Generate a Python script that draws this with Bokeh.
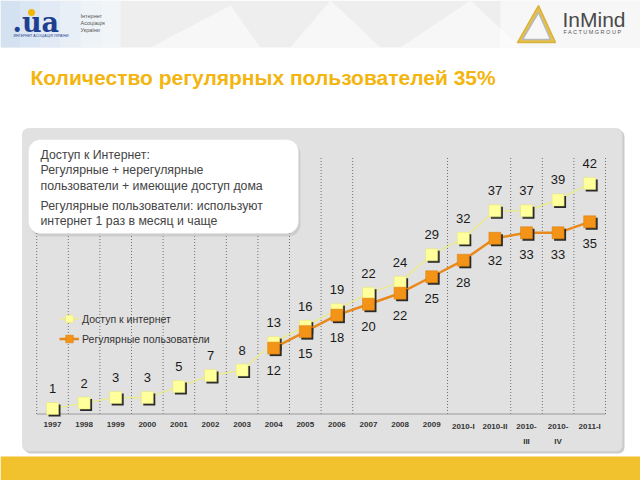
from bokeh.plotting import figure
from bokeh.models import Range1d, BoxAnnotation, Label, Legend, LegendItem
from bokeh.core.properties import value
from bokeh.embed import file_html
from bokeh.resources import INLINE

# ---------------- data ----------------
categories = ["1997", "1998", "1999", "2000", "2001", "2002", "2003", "2004", "2005",
              "2006", "2007", "2008", "2009", "2010-I", "2010-II", "2010-\nIII",
              "2010-\nIV", "2011-I"]
access = [1, 2, 3, 3, 5, 7, 8, 13, 16, 19, 22, 24, 29, 32, 37, 37, 39, 42]
regular_start = 7  # regular users series begins at 2004
regular = [12, 15, 18, 20, 22, 25, 28, 32, 33, 33, 35]
separator_after = [-1, 0, 1, 2, 3, 4, 5, 6, 7, 8, 9, 12, 14, 15, 16, 17]

title_text = "Количество регулярных пользователей 35%"
legend_access = "Доступ к интернет"
legend_regular = "Регулярные пользователи"
note_lines = ["Доступ к Интернет:", "Регулярные + нерегулярные",
              "пользователи + имеющие доступ дома"]
note_lines2 = ["Регулярные пользователи: используют", "интернет 1 раз в месяц и чаще"]

# ---------------- geometry (page pixels) ----------------
W, H = 640, 480
X0, SX = 52.0, 31.6      # page x of first category, px per category
Y0, SY = 413.5, 5.49     # page y of value 0, px per unit
Y_TOP = 47.0             # value at top of separators

def px(x):
    return (x - X0) / SX

def py(y):
    return (Y0 - y) / SY

FONT = "Liberation Sans"

p = figure(width=W, height=H, output_backend="svg", toolbar_location=None,
           x_range=Range1d((0 - X0) / SX, (W - X0) / SX),
           y_range=Range1d((Y0 - H) / SY, Y0 / SY),
           x_axis_location=None, y_axis_location=None, title=None, min_border=0)
p.grid.visible = False
p.outline_line_color = None
p.background_fill_color = "white"
p.border_fill_color = "white"

# ---------------- header ----------------
p.add_layout(BoxAnnotation(left=px(0), right=px(640), top=py(0), bottom=py(47),
                           fill_color="#eeeeee", fill_alpha=1, line_color=None, level="underlay"))
grad = ["#d3e1f1", "#dae6f3", "#e1eaf5", "#e8eff7", "#eef3f8", "#f2f5f8"]
for i, c in enumerate(grad):
    p.add_layout(BoxAnnotation(left=px(i * 20), right=px(i * 20 + 20), top=py(0), bottom=py(47),
                               fill_color=c, fill_alpha=1, line_color=None, level="underlay"))
p.add_layout(BoxAnnotation(left=px(500), right=px(640), top=py(0), bottom=py(47),
                           fill_color="#f7f7f7", fill_alpha=1, line_color=None, level="underlay"))
# soft white shapes in header
p.patches(xs=[[px(290), px(330), px(380)], [px(400), px(470), px(520)], [px(150), px(230), px(260)]],
          ys=[[py(47), py(0), py(47)], [py(47), py(0), py(47)], [py(47), py(5), py(47)]],
          fill_color="white", fill_alpha=0.55, line_color=None)

# left logo
p.add_layout(Label(x=px(12), y=py(22), text=".ua", text_font="DejaVu Serif", text_font_style="bold",
                   text_font_size="27px", text_color="#1e3f8f", text_baseline="middle"))
p.scatter([px(31)], [py(12)], marker="circle", size=7, fill_color="#f2b705", line_color=None)
p.add_layout(Label(x=px(13), y=py(35), text="ИНТЕРНЕТ АСОЦІАЦІЯ УКРАЇНИ", text_font=FONT,
                   text_font_size="3.5px", text_color="#1e3f8f", text_baseline="middle"))
for k, t in enumerate(["Інтернет", "Асоціація", "України"]):
    p.add_layout(Label(x=px(80), y=py(15 + 7 * k), text=t, text_font=FONT, text_font_size="5.5px",
                       text_color="#555555", text_baseline="middle"))

# right logo
p.patches(xs=[[px(517), px(538), px(555)], [px(522), px(538), px(550)]],
          ys=[[py(42), py(5), py(42)], [py(39), py(12), py(39)]],
          fill_color=["#e6c04a", "#f7f7f7"], line_color=["#d9b23c", "#b8b8b8"], line_width=1.5)
p.add_layout(Label(x=px(562), y=py(19), text="InMind", text_font=FONT, text_font_size="21px",
                   text_color="#4a4a4a", text_baseline="middle"))
p.add_layout(Label(x=px(563), y=py(31), text="F A C T U M   G R O U P", text_font=FONT,
                   text_font_size="5.5px", text_color="#555555", text_baseline="middle"))

# title
p.add_layout(Label(x=px(30), y=py(77), text=title_text, text_font=FONT, text_font_style="bold",
                   text_font_size="21px", text_color="#f3b50f", text_baseline="middle"))

# ---------------- panel ----------------
p.add_layout(BoxAnnotation(left=px(24), right=px(624), top=py(130), bottom=py(453),
                           fill_color="#cccccc", fill_alpha=1, line_color=None,
                           border_radius=6, level="underlay"))
p.add_layout(BoxAnnotation(left=px(22), right=px(622), top=py(128), bottom=py(451),
                           fill_color="#e1e1e1", fill_alpha=1, line_color="#c4c4c4",
                           border_radius=6, level="underlay"))

# bottom band
p.add_layout(BoxAnnotation(left=px(0), right=px(640), top=py(456), bottom=py(481),
                           fill_color="#f2c12e", fill_alpha=1, line_color="#f7dc85",
                           level="underlay"))

# separators and baseline
sx = [i + 0.5 for i in separator_after]
p.segment(x0=sx, y0=[0] * len(sx), x1=sx, y1=[Y_TOP] * len(sx),
          line_color="#6f6f6f", line_dash="1 2", line_width=1)
p.segment(x0=[-0.5], y0=[0], x1=[len(categories) - 0.5], y1=[0], line_color="#9a9a9a", line_width=1)

# tick labels
idx = list(range(len(categories)))
p.text(x=idx, y=[0] * len(idx), text=categories, y_offset=8, text_align="center",
       text_baseline="top", text_font=value(FONT), text_font_style="bold",
       text_font_size="8px", text_color="#333333", text_line_height=1.7)

# ---------------- series ----------------
dx, dy = 2.0 / SX, 2.0 / SY
ridx = list(range(regular_start, regular_start + len(regular)))

yline = p.line(idx, access, line_color="#ecec7a", line_width=1.2)
p.scatter([i + dx for i in idx], [v - dy for v in access], marker="square", size=12,
          fill_color="#2a2a2a", line_color=None)
ysc = p.scatter(idx, access, marker="square", size=12, fill_color="#ffff9c", line_color="#e0e07a",
                line_width=0.5)

oline = p.line(ridx, regular, line_color="#e8891c", line_width=2.5)
p.scatter([i + dx for i in ridx], [v - dy for v in regular], marker="square", size=12,
          fill_color="#2a2a2a", line_color=None)
osc = p.scatter(ridx, regular, marker="square", size=12, fill_color="#f39419", line_color="#d97c0a",
                line_width=0.5)

p.text(x=idx, y=access, text=[str(v) for v in access], y_offset=-20, text_align="center",
       text_baseline="middle", text_font=value(FONT), text_font_size="13px", text_color="#1a1a1a")
p.text(x=ridx, y=regular, text=[str(v) for v in regular], y_offset=22, text_align="center",
       text_baseline="middle", text_font=value(FONT), text_font_size="13px", text_color="#1a1a1a")

legend = Legend(items=[LegendItem(label=legend_access, renderers=[yline, ysc]),
                       LegendItem(label=legend_regular, renderers=[oline, osc])],
                location=(59, 132), padding=0, margin=0, spacing=1, glyph_width=20, glyph_height=19,
                label_height=19, label_standoff=3, label_text_font=FONT, label_text_font_size="10.5px",
                label_text_color="#333333", background_fill_alpha=0, border_line_alpha=0)
p.add_layout(legend, "center")

# ---------------- callout ----------------
p.add_layout(BoxAnnotation(left=px(30), right=px(300), top=py(142), bottom=py(236),
                           fill_color="#a8a8a8", fill_alpha=0.35, line_color=None, border_radius=12))
p.add_layout(BoxAnnotation(left=px(28), right=px(298), top=py(139), bottom=py(233),
                           fill_color="white", fill_alpha=1, line_color="#dddddd", border_radius=12))
for k, t in enumerate(note_lines):
    p.add_layout(Label(x=px(40), y=py(154 + 15.5 * k), text=t, text_font=FONT, text_font_size="12.3px",
                       text_color="#444444", text_baseline="middle"))
for k, t in enumerate(note_lines2):
    p.add_layout(Label(x=px(40), y=py(205 + 15.5 * k), text=t, text_font=FONT, text_font_size="12.3px",
                       text_color="#444444", text_baseline="middle"))

open("out.html", "w").write(file_html(p, INLINE))
